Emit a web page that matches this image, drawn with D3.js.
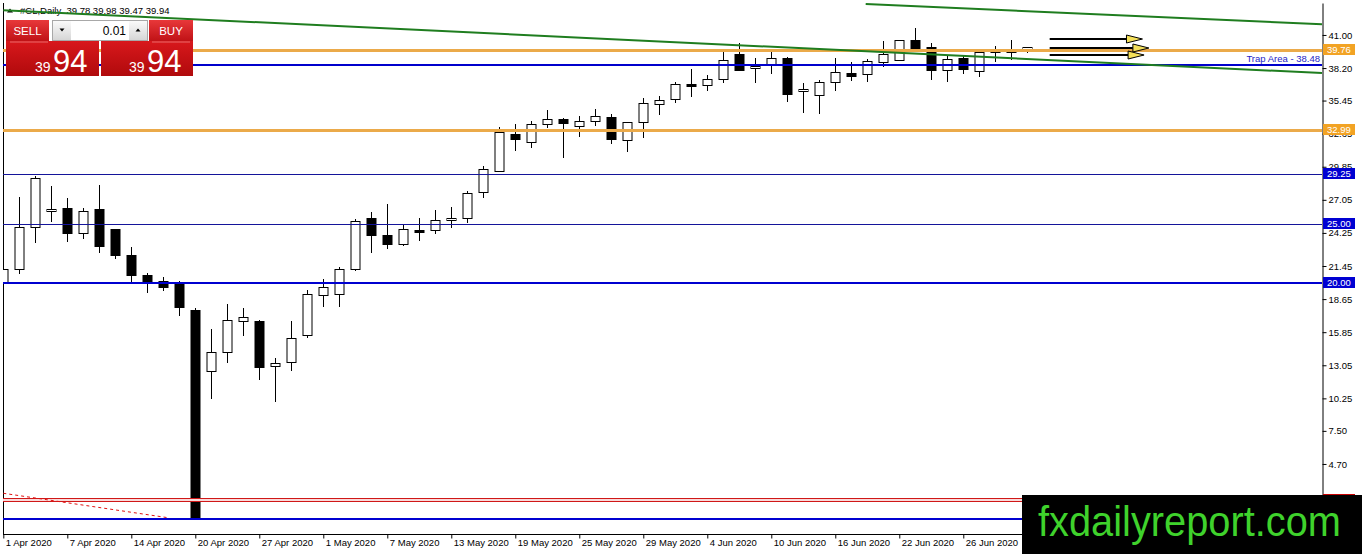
<!DOCTYPE html>
<html>
<head>
<meta charset="utf-8">
<script src="https://cdn.jsdelivr.net/npm/d3@7"></script>
<style>
body { margin: 0; background: #fff; }
svg { display: block; }
text { font-family: "Liberation Sans", Arial, sans-serif; }
</style>
</head>
<body>
<script>
// bar dates (daily, #CL)
let dates = [
    "2020-04-01","2020-04-02","2020-04-03","2020-04-06","2020-04-07","2020-04-08","2020-04-09","2020-04-13",
    "2020-04-14","2020-04-15","2020-04-16","2020-04-17","2020-04-20","2020-04-21","2020-04-22","2020-04-23",
    "2020-04-27","2020-04-28","2020-04-29","2020-04-30","2020-05-01","2020-05-04","2020-05-05","2020-05-06",
    "2020-05-07","2020-05-08","2020-05-11","2020-05-12","2020-05-13","2020-05-14","2020-05-15","2020-05-18",
    "2020-05-19","2020-05-20","2020-05-21","2020-05-22","2020-05-25","2020-05-26","2020-05-27","2020-05-28",
    "2020-05-29","2020-06-01","2020-06-02","2020-06-03","2020-06-04","2020-06-05","2020-06-08","2020-06-09",
    "2020-06-10","2020-06-11","2020-06-12","2020-06-15","2020-06-16","2020-06-17","2020-06-18","2020-06-19",
    "2020-06-22","2020-06-23","2020-06-24","2020-06-25","2020-06-26","2020-06-29","2020-06-30","2020-07-01",
    "2020-07-02"
];

let open = [
    20.04,21.17,24.72,26.08,26.33,24.22,26.25,24.56,22.36,20.66,20.15,19.93,17.73,12.51,14.15,16.77,
    16.80,12.99,13.27,15.55,18.94,19.06,21.17,25.49,24.07,23.26,24.50,24.47,25.28,25.49,27.65,29.52,
    32.62,31.92,33.44,33.89,33.24,33.70,34.03,32.09,33.61,35.13,35.56,36.85,36.74,37.25,39.39,38.18,
    38.52,39.05,36.23,35.86,37.00,37.81,37.70,38.74,38.91,40.57,39.96,37.98,39.02,37.89,39.58,39.60,
    39.78
];
let high = [
    21.50,27.30,29.07,28.22,27.18,26.33,28.30,24.60,23.03,20.83,20.49,20.15,17.87,16.12,18.24,17.92,
    16.88,13.64,16.80,19.42,20.35,21.39,25.43,26.05,26.70,24.92,25.49,26.19,26.42,27.82,29.91,33.24,
    33.44,33.72,34.65,34.00,34.17,34.71,34.31,33.65,35.69,35.84,37.05,38.09,37.61,39.67,40.35,39.02,
    39.79,39.10,36.96,37.19,39.02,38.69,38.94,40.52,40.60,41.59,40.29,39.22,39.22,39.55,40.07,40.57,
    39.98
];
let low = [
    19.90,20.75,23.42,25.20,23.50,23.71,22.52,22.02,19.90,19.14,19.36,17.25,0.10,10.20,13.27,15.55,
    11.80,9.97,12.59,15.38,18.00,18.00,21.05,22.52,22.86,23.17,23.60,24.13,24.70,25.11,27.18,29.43,
    31.21,31.46,33.15,30.62,32.39,33.32,31.75,31.07,32.31,34.23,35.22,35.78,36.28,36.96,38.00,36.96,
    37.67,35.35,34.42,34.29,36.28,37.10,37.05,38.32,38.88,39.88,37.19,37.00,37.70,37.47,38.74,38.88,
    39.47
];
let close = [
    21.17,24.72,28.87,26.25,24.22,26.08,23.08,22.32,20.63,20.10,19.61,18.00,0.12,14.15,16.88,17.11,
    12.88,13.22,15.33,19.06,19.65,21.17,25.26,24.01,23.34,24.56,24.35,25.32,25.49,27.60,29.63,32.79,
    32.22,33.44,33.89,33.55,33.70,34.12,32.17,33.61,35.22,35.50,36.85,36.65,37.25,38.86,38.06,38.35,
    39.02,36.03,36.43,37.00,37.84,37.59,38.80,39.39,40.57,39.90,37.98,38.94,38.06,39.53,39.64,39.64,
    39.94
];

let yTicks = [41.00, 38.20, 35.45, 32.65, 29.85, 27.05, 24.25, 21.45, 18.65, 15.85, 13.05, 10.25, 7.50, 4.70];

// horizontal levels
let levelPrices = [39.76, 38.48, 32.99, 29.25, 25.00, 20.00, 1.65, 0.00];
let levelKinds  = ["orange", "trap", "orange", "blue", "blue", "blueBold", "red", "blueBold"];
let levelTags   = ["39.76", "Trap Area - 38.48", "32.99", "29.25", "25.00", "20.00", "1.65", ""];

// trend lines as [bar index, price]
let greenLower = [[0, 43.10], [82.42, 37.78]];
let greenUpper = [[53.9, 43.62], [82.42, 41.90]];
let redDashed  = [[0, 2.22], [10.3, 0.15]];

// arrows as [bar index, price]
let arrowFrom = [[65.4, 40.66], [65.4, 39.90], [65.4, 39.30]];
let arrowTo   = [[71.2, 40.66], [71.6, 39.90], [71.3, 39.30]];

let headerText = "#CL,Daily  39.78 39.98 39.47 39.94";
let lotSize = "0.01";
let sellPrice = ["39", "94"];
let buyPrice = ["39", "94"];
let watermark = "fxdailyreport.com";

let svgWidth = 1362, svgHeight = 554;
let plot = {left: 3, right: 1322, top: 3, bottom: 534};

let levelStyle = {
    orange:   {stroke: "#ebaa4a", width: 3, box: "#f2a324"},
    trap:     {stroke: "#0000cc", width: 2, box: null},
    blue:     {stroke: "#14149a", width: 1, box: "#0000d2"},
    blueBold: {stroke: "#0000d0", width: 2, box: "#0000d2"},
    red:      {stroke: "#d01818", width: 1, box: "#c80000"}
};

let parseDate = d3.timeParse("%Y-%m-%d");
let fmtDate = d3.timeFormat("%-d %b %Y");

let x = d3.scaleLinear().domain([0, 82.42]).range([3.3, plot.right]);
let y = d3.scaleLinear().domain([-1.227, 43.705]).range([plot.bottom, plot.top]);

let svg = d3.select("body").append("svg")
    .attr("width", svgWidth)
    .attr("height", svgHeight);

let defs = svg.append("defs");
defs.append("clipPath").attr("id", "plotClip")
    .append("rect")
    .attr("x", plot.left).attr("y", plot.top)
    .attr("width", plot.right - plot.left).attr("height", plot.bottom - plot.top);

function gradient(id, c1, c2) {
    let g = defs.append("linearGradient").attr("id", id)
        .attr("x1", 0).attr("y1", 0).attr("x2", 0).attr("y2", 1);
    g.append("stop").attr("offset", "0%").attr("stop-color", c1);
    g.append("stop").attr("offset", "100%").attr("stop-color", c2);
}
gradient("redBtn", "#e8383a", "#c01216");
gradient("redBox", "#d8181c", "#b00a0c");
gradient("grayBtn", "#fafafa", "#d6d6d6");

// pixel snap for horizontal lines
function snap(v, w) {
    let r = Math.round(v);
    return (w % 2 === 1) ? r + 0.5 : r;
}

// header
svg.append("path")
    .attr("d", "M7,12.5L10,8.5L13,12.5Z")
    .attr("fill", "#000");
svg.append("text")
    .attr("x", 20).attr("y", 14)
    .style("font-size", "9.5px")
    .attr("xml:space", "preserve")
    .text(headerText);

// frame line on the left
svg.append("line")
    .attr("x1", plot.left + 0.5).attr("x2", plot.left + 0.5)
    .attr("y1", plot.top).attr("y2", plot.bottom)
    .attr("stroke", "#000");

let plotG = svg.append("g").attr("clip-path", "url(#plotClip)");

// candles
let bars = dates.map((d, i) => ({i: i, o: open[i], h: high[i], l: low[i], c: close[i]}));
let candle = plotG.append("g").selectAll("g").data(bars).join("g");

candle.append("line")
    .attr("x1", d => Math.round(x(d.i)) + 0.5)
    .attr("x2", d => Math.round(x(d.i)) + 0.5)
    .attr("y1", d => Math.round(y(d.h)))
    .attr("y2", d => Math.round(y(d.l)))
    .attr("stroke", "#000")
    .attr("stroke-width", 1);

candle.append("rect")
    .attr("x", d => Math.round(x(d.i)) - 4)
    .attr("y", d => Math.round(y(Math.max(d.o, d.c))) + 0.5)
    .attr("width", 9)
    .attr("height", d => Math.max(1, Math.round(Math.abs(y(d.o) - y(d.c)))))
    .attr("fill", d => d.c >= d.o ? "#fff" : "#000")
    .attr("stroke", "#000")
    .attr("stroke-width", 1);

// horizontal levels
levelPrices.forEach((p, k) => {
    let st = levelStyle[levelKinds[k]];
    if (levelKinds[k] === "red") {
        let r = Math.round(y(p));
        plotG.append("rect")
            .attr("x", plot.left).attr("y", r - 1)
            .attr("width", plot.right - plot.left).attr("height", 2)
            .attr("fill", "#f8dada");
        [r - 1.5, r + 1.5].forEach(v => {
            plotG.append("line")
                .attr("x1", plot.left).attr("x2", plot.right)
                .attr("y1", v).attr("y2", v)
                .attr("stroke", st.stroke)
                .attr("stroke-width", 1);
        });
        return;
    }
    let yy = snap(y(p), st.width);
    plotG.append("line")
        .attr("x1", plot.left).attr("x2", plot.right)
        .attr("y1", yy).attr("y2", yy)
        .attr("stroke", st.stroke)
        .attr("stroke-width", st.width);
});

// trend lines
let line = d3.line().x(d => x(d[0])).y(d => y(d[1]));
plotG.append("path").attr("d", line(greenLower))
    .attr("fill", "none").attr("stroke", "#1f7d1f").attr("stroke-width", 2);
plotG.append("path").attr("d", line(greenUpper))
    .attr("fill", "none").attr("stroke", "#1f7d1f").attr("stroke-width", 2);
plotG.append("path").attr("d", line(redDashed))
    .attr("fill", "none").attr("stroke", "#e01010").attr("stroke-width", 1)
    .attr("stroke-dasharray", "3,3");

// arrows
arrowFrom.forEach((a, k) => {
    let x1 = x(a[0]), y1 = snap(y(a[1]), 2);
    let x2 = x(arrowTo[k][0]), y2 = snap(y(arrowTo[k][1]), 2);
    let headLen = 16, half = 4;
    plotG.append("line")
        .attr("x1", x1).attr("y1", y1)
        .attr("x2", x2 - headLen).attr("y2", y2)
        .attr("stroke", "#000").attr("stroke-width", 2);
    plotG.append("path")
        .attr("d", `M${x2 - headLen},${y2 - half}L${x2},${y2}L${x2 - headLen},${y2 + half}Z`)
        .attr("fill", "#f4e05a")
        .attr("stroke", "#000")
        .attr("stroke-width", 1);
});

// axes
let yAxis = svg.append("g")
    .attr("transform", `translate(${plot.right + 0.5},0)`)
    .call(d3.axisRight(y).tickValues(yTicks).tickFormat(d3.format(".2f")).tickSize(4).tickSizeOuter(0));
yAxis.attr("color", "#000");
yAxis.selectAll("text")
    .attr("x", 6)
    .style("font-size", "9.5px")
    .style("font-family", '"Liberation Sans", Arial, sans-serif');

let xAxis = svg.append("g")
    .attr("transform", `translate(0,${plot.bottom + 0.5})`)
    .call(d3.axisBottom(x)
        .tickValues(d3.range(0, dates.length - 1, 4))
        .tickFormat(i => fmtDate(parseDate(dates[i])))
        .tickSize(4).tickSizeOuter(0));
xAxis.attr("color", "#000");
xAxis.select(".domain").attr("d", `M${plot.left},0H${plot.right}`);
xAxis.selectAll("text")
    .attr("x", 2)
    .attr("y", 5)
    .attr("text-anchor", "start")
    .style("font-size", "9.5px")
    .style("font-family", '"Liberation Sans", Arial, sans-serif');

// level tags on the price scale
levelPrices.forEach((p, k) => {
    let st = levelStyle[levelKinds[k]];
    if (!levelTags[k]) return;
    if (st.box) {
        svg.append("rect")
            .attr("x", plot.right + 1).attr("y", Math.round(y(p)) - 6)
            .attr("width", 32).attr("height", 11)
            .attr("fill", st.box);
        svg.append("text")
            .attr("x", plot.right + 5).attr("y", Math.round(y(p)) + 3)
            .attr("fill", "#fff")
            .style("font-size", "9.5px")
            .text(levelTags[k]);
    } else {
        svg.append("text")
            .attr("x", plot.right - 2).attr("y", y(p) - 3)
            .attr("text-anchor", "end")
            .attr("fill", "#2424c8")
            .style("font-size", "9.5px")
            .text(levelTags[k]);
    }
});

// one click trading panel
let panel = svg.append("g");
panel.append("rect").attr("x", 6).attr("y", 20).attr("width", 43).attr("height", 21).attr("fill", "url(#redBtn)");
panel.append("rect").attr("x", 149).attr("y", 20).attr("width", 44).attr("height", 21).attr("fill", "url(#redBtn)");
panel.append("text").attr("x", 27.5).attr("y", 35).attr("text-anchor", "middle")
    .attr("fill", "#fff").style("font-size", "11.5px").text("SELL");
panel.append("text").attr("x", 171).attr("y", 35).attr("text-anchor", "middle")
    .attr("fill", "#fff").style("font-size", "11.5px").text("BUY");

panel.append("rect").attr("x", 52.5).attr("y", 20.5).attr("width", 95).attr("height", 20)
    .attr("fill", "#fff").attr("stroke", "#a8a8a8");
panel.append("rect").attr("x", 53).attr("y", 21).attr("width", 18).attr("height", 19).attr("fill", "url(#grayBtn)");
panel.append("rect").attr("x", 129).attr("y", 21).attr("width", 18).attr("height", 19).attr("fill", "url(#grayBtn)");
panel.append("path").attr("d", "M59.5,28.5L64.5,28.5L62,31.5Z").attr("fill", "#000");
panel.append("path").attr("d", "M135.5,31.5L140.5,31.5L138,28.5Z").attr("fill", "#000");
panel.append("text").attr("x", 126).attr("y", 35).attr("text-anchor", "end")
    .style("font-size", "12px").text(lotSize);

panel.append("rect").attr("x", 6).attr("y", 41).attr("width", 93).attr("height", 35).attr("fill", "url(#redBox)");
panel.append("rect").attr("x", 101).attr("y", 41).attr("width", 92).attr("height", 35).attr("fill", "url(#redBox)");
panel.append("line").attr("x1", 10).attr("x2", 48).attr("y1", 42).attr("y2", 42).attr("stroke", "#e86a6a");
panel.append("line").attr("x1", 152).attr("x2", 190).attr("y1", 42).attr("y2", 42).attr("stroke", "#e86a6a");

[[sellPrice, 35], [buyPrice, 129]].forEach(([pr, px]) => {
    panel.append("text").attr("x", px).attr("y", 71.5)
        .attr("fill", "#fff").style("font-size", "14px").text(pr[0]);
    panel.append("text").attr("x", px + 18).attr("y", 71.5)
        .attr("fill", "#fff").style("font-size", "31px").text(pr[1]);
});

// watermark
svg.append("rect")
    .attr("x", 1022).attr("y", 495)
    .attr("width", 340).attr("height", 59)
    .attr("fill", "#000");
svg.append("text")
    .attr("x", 1038).attr("y", 536)
    .attr("fill", "#3fd22c")
    .attr("textLength", 303)
    .attr("lengthAdjust", "spacingAndGlyphs")
    .style("font-size", "42px")
    .text(watermark);
</script>
</body>
</html>
